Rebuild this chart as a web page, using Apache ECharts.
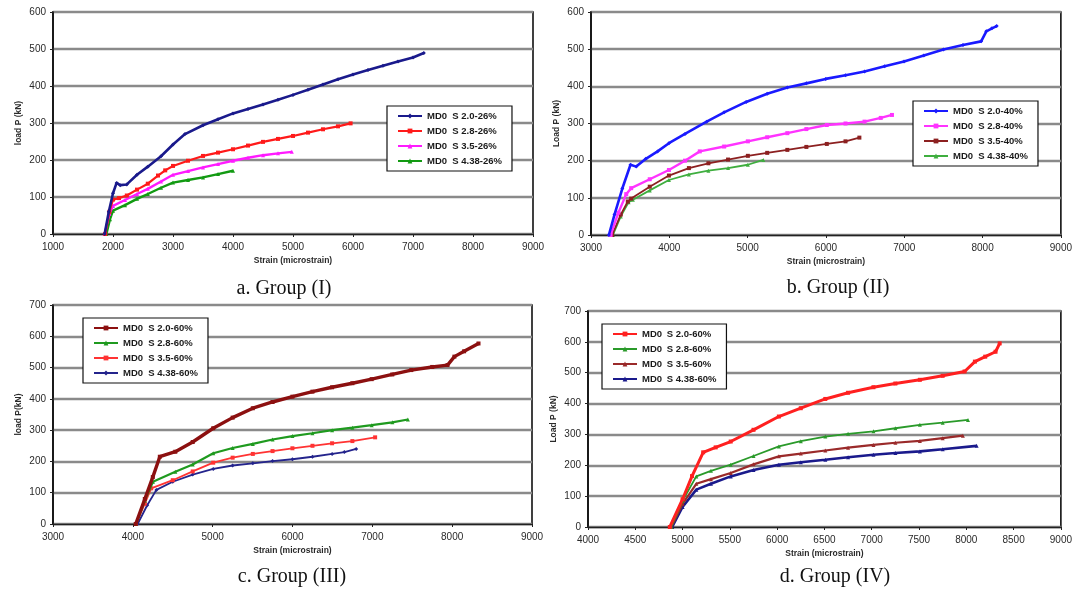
<!DOCTYPE html>
<html>
<head>
<meta charset="utf-8">
<script src="https://cdn.jsdelivr.net/npm/echarts@6/dist/echarts.min.js"></script>
<style>
  html, body { margin: 0; padding: 0; background: #fff; }
  #chart { width: 1075px; height: 592px; }
</style>
</head>
<body>
<div id="chart"></div>
<script>
// Load–strain curves, four groups of specimens: [strain (microstrain), load (kN)]

// Group (I) – 26%
const g1_s20 = [[1860,0],[1930,60],[2000,110],[2060,138],[2120,132],[2230,134],[2400,160],[2580,182],[2800,210],[3000,242],[3200,270],[3500,294],[3750,310],[4000,326],[4250,338],[4500,350],[4750,363],[5000,376],[5250,390],[5500,404],[5750,418],[6000,431],[6250,443],[6500,455],[6750,466],[7000,477],[7180,489]];
const g1_s28 = [[1870,0],[1940,60],[2000,93],[2100,97],[2230,104],[2400,120],[2580,136],[2750,158],[2870,172],[3000,184],[3250,198],[3500,211],[3750,220],[4000,229],[4250,239],[4500,249],[4750,257],[5000,265],[5250,274],[5500,283],[5750,291],[5960,299]];
const g1_s35 = [[1860,0],[1940,55],[2000,76],[2200,92],[2400,108],[2580,122],[2800,142],[3000,160],[3250,170],[3500,180],[3750,189],[4000,198],[4250,206],[4500,213],[4750,218],[4980,222]];
const g1_s438 = [[1890,0],[1950,40],[2000,63],[2200,78],[2400,95],[2580,108],[2800,125],[3000,139],[3250,146],[3500,153],[3750,162],[4000,171]];

// Group (II) – 40%
const g2_s20 = [[3228,0],[3300,55],[3400,125],[3504,189],[3578,184],[3700,205],[3850,225],[3995,247],[4200,272],[4477,305],[4700,330],[4981,358],[5250,380],[5507,397],[5750,408],[5997,420],[6250,430],[6493,440],[6750,454],[6997,467],[7250,483],[7500,499],[7750,511],[7982,521],[8048,548],[8120,556],[8180,562]];
const g2_s28 = [[3250,0],[3350,60],[3450,110],[3513,126],[3750,150],[3995,175],[4200,200],[4389,225],[4700,238],[5003,252],[5250,263],[5507,274],[5750,285],[6011,296],[6250,300],[6493,305],[6700,315],[6843,323]];
const g2_s35 = [[3270,0],[3380,55],[3470,90],[3513,98],[3750,130],[3995,160],[4250,180],[4499,193],[4750,203],[5003,213],[5250,221],[5507,229],[5750,237],[6011,245],[6250,252],[6427,262]];
const g2_s438 = [[3280,0],[3380,50],[3480,88],[3535,95],[3750,120],[3995,148],[4250,163],[4499,173],[4750,180],[5003,189],[5200,202]];

// Group (III) – 60%
const g3_s20 = [[4036,0],[4150,80],[4250,150],[4338,215],[4532,231],[4750,262],[5007,306],[5250,340],[5503,370],[5750,390],[5999,407],[6250,423],[6496,437],[6750,450],[6992,463],[7250,478],[7488,492],[7750,502],[7942,508],[8028,535],[8150,552],[8330,577]];
const g3_s28 = [[4040,0],[4150,75],[4252,135],[4532,167],[4750,190],[5007,226],[5250,243],[5503,256],[5750,270],[5999,281],[6250,290],[6496,300],[6750,308],[6992,316],[7250,325],[7445,334]];
const g3_s35 = [[4040,0],[4150,65],[4230,114],[4500,140],[4750,168],[5007,196],[5250,212],[5503,224],[5750,233],[5999,242],[6250,250],[6496,258],[6750,265],[7035,277]];
const g3_s438 = [[4060,0],[4180,60],[4295,109],[4500,135],[4750,158],[5007,176],[5250,187],[5503,194],[5750,201],[5999,207],[6250,215],[6496,224],[6650,230],[6798,240]];

// Group (IV) – 60%
const g4_s20 = [[4865,0],[5000,90],[5100,165],[5218,242],[5350,258],[5509,277],[5750,315],[6018,358],[6250,385],[6509,415],[6750,435],[7018,453],[7250,465],[7509,477],[7750,490],[7982,504],[8091,536],[8200,552],[8309,568],[8353,595]];
const g4_s28 = [[4880,0],[5000,85],[5145,164],[5300,182],[5509,202],[5750,230],[6018,261],[6250,278],[6509,293],[6750,302],[7018,310],[7250,320],[7509,331],[7750,338],[8018,347]];
const g4_s35 = [[4880,0],[5000,75],[5145,140],[5300,155],[5509,175],[5750,203],[6018,229],[6250,238],[6509,248],[6750,257],[7018,266],[7250,273],[7509,279],[7750,288],[7964,296]];
const g4_s438 = [[4890,0],[5000,65],[5145,121],[5300,140],[5509,164],[5750,185],[6018,202],[6250,210],[6509,218],[6750,226],[7018,234],[7250,240],[7509,245],[7750,252],[8109,263]];

// Legend labels
const names1 = ['MD0  S 2.0-26%', 'MD0  S 2.8-26%', 'MD0  S 3.5-26%', 'MD0  S 4.38-26%'];
const names2 = ['MD0  S 2.0-40%', 'MD0  S 2.8-40%', 'MD0  S 3.5-40%', 'MD0  S 4.38-40%'];
const names3 = ['MD0  S 2.0-60%', 'MD0  S 2.8-60%', 'MD0  S 3.5-60%', 'MD0  S 4.38-60%'];
const names4 = ['MD0\u2002S 2.0-60%', 'MD0\u2002S 2.8-60%', 'MD0\u2002S 3.5-60%', 'MD0\u2002S 4.38-60%'];

// Axis ranges and captions
const xRanges = [[1000, 9000, 1000], [3000, 9000, 1000], [3000, 9000, 1000], [4000, 9000, 500]];
const yMax = [600, 600, 700, 700];
const yNames = ['load P (kN)', 'Load P (kN)', 'load P(kN)', 'Load P (kN)'];
const captions = ['a. Group (I)', 'b. Group (II)', 'c. Group (III)', 'd. Group (IV)'];

const chart = echarts.init(document.getElementById('chart'), null, { renderer: 'canvas' });

const grids = [
  { left: 53, top: 12, width: 480, height: 222 },
  { left: 591, top: 12, width: 471, height: 223 },
  { left: 53, top: 305, width: 479, height: 219 },
  { left: 588, top: 311, width: 474, height: 216 }
];

const legendBoxes = [
  { left: 387, top: 106 },
  { left: 913, top: 101 },
  { left: 83, top: 318 },
  { left: 602, top: 324 }
];

const captionPos = [[284, 289], [838, 288], [292, 577], [835, 577]];

const groups = [
  { data: [g1_s20, g1_s28, g1_s35, g1_s438], names: names1,
    colors: ['#1a1a8c', '#ff1a1a', '#ff1aff', '#129a12'],
    widths: [2.6, 2.2, 2.4, 2.4], symbols: ['diamond', 'rect', 'triangle', 'triangle'] },
  { data: [g2_s20, g2_s28, g2_s35, g2_s438], names: names2,
    colors: ['#1a1aff', '#ff33ff', '#8c2020', '#3fae3f'],
    widths: [2.6, 2.4, 1.8, 1.8], symbols: ['diamond', 'rect', 'rect', 'triangle'] },
  { data: [g3_s20, g3_s28, g3_s35, g3_s438], names: names3,
    colors: ['#8c1010', '#1f9a1f', '#ff3333', '#24248c'],
    widths: [3.4, 2.2, 1.8, 1.8], symbols: ['rect', 'triangle', 'rect', 'diamond'] },
  { data: [g4_s20, g4_s28, g4_s35, g4_s438], names: names4,
    colors: ['#ff2020', '#2a9a2a', '#9a2a2a', '#1a1a8c'],
    widths: [3.0, 1.8, 2.2, 2.6], symbols: ['rect', 'triangle', 'triangle', 'triangle'] }
];

const textColor = '#2a2a2a';
const plainNumber = v => String(v);

const option = {
  backgroundColor: '#ffffff',
  animation: false,
  grid: grids.map(g => Object.assign({ show: true, borderColor: '#111', borderWidth: 1.6, backgroundColor: 'transparent' }, g)),
  xAxis: xRanges.map((r, i) => ({
    type: 'value', gridIndex: i, min: r[0], max: r[1], interval: r[2],
    name: 'Strain (microstrain)', nameLocation: 'middle', nameGap: 22,
    nameTextStyle: { fontFamily: 'Liberation Sans', fontSize: 8.5, fontWeight: 'bold', color: textColor },
    axisLine: { lineStyle: { color: '#222', width: 1.4 } },
    axisTick: { show: true, length: 3, lineStyle: { color: '#222' } },
    axisLabel: { fontFamily: 'Liberation Sans', fontSize: 10, color: textColor, margin: 8, formatter: plainNumber },
    splitLine: { show: false }
  })),
  yAxis: yMax.map((m, i) => ({
    type: 'value', gridIndex: i, min: 0, max: m, interval: 100,
    name: yNames[i], nameLocation: 'middle', nameGap: 30, nameRotate: 90,
    nameTextStyle: { fontFamily: 'Liberation Sans', fontSize: 8.5, fontWeight: 'bold', color: textColor },
    axisLine: { show: true, lineStyle: { color: '#111', width: 1.6 } },
    axisTick: { show: true, length: 3, lineStyle: { color: '#222' } },
    axisLabel: { fontFamily: 'Liberation Sans', fontSize: 10, color: textColor, margin: 7, formatter: plainNumber },
    splitLine: { show: true, lineStyle: { color: '#8a8a8a', width: 2.4 } }
  })),
  legend: groups.map((g, i) => ({
    orient: 'vertical',
    left: legendBoxes[i].left, top: legendBoxes[i].top,
    data: g.names,
    itemWidth: 24, itemHeight: 6, itemGap: 5,
    padding: [5, 10, 5, 10],
    borderColor: '#111', borderWidth: 1.2,
    backgroundColor: '#ffffff',
    textStyle: { fontFamily: 'Liberation Sans', fontSize: 9.5, fontWeight: 'bold', color: '#1a1a1a', padding: [1, 0, 0, 0] },
    selectedMode: false
  })),
  graphic: captions.map((c, i) => ({
    type: 'text', x: captionPos[i][0], y: captionPos[i][1],
    style: { text: c, fill: '#111', font: '20px "Liberation Serif", serif', textAlign: 'center', textVerticalAlign: 'middle' }
  })),
  series: []
};

groups.forEach((g, gi) => {
  g.data.forEach((d, si) => {
    option.series.push({
      type: 'line', name: g.names[si], xAxisIndex: gi, yAxisIndex: gi,
      data: d, showSymbol: true, symbol: g.symbols[si], symbolSize: 4,
      lineStyle: { color: g.colors[si], width: g.widths[si] },
      itemStyle: { color: g.colors[si] },
      z: 5 - si
    });
  });
});

chart.setOption(option);
</script>
</body>
</html>
